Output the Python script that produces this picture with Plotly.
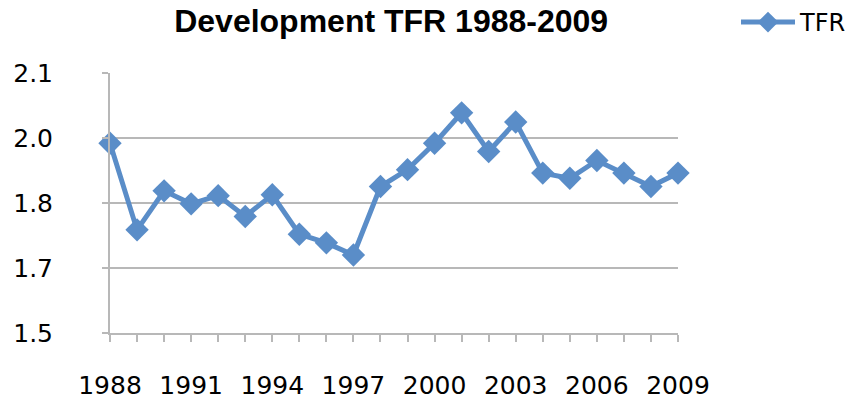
import plotly.graph_objects as go

years = list(range(1988, 2010))
tfr = [1.938, 1.738, 1.828, 1.798, 1.817, 1.769, 1.819, 1.728, 1.708, 1.680, 1.838,
       1.877, 1.938, 2.008, 1.919, 1.987, 1.869, 1.857, 1.898, 1.869, 1.838, 1.869]

y_ticks = [1.5, 1.65, 1.8, 1.95, 2.1]
y_labels = ["1.5", "1.7", "1.8", "2.0", "2.1"]
x_ticks = list(range(1988, 2010, 3))

line_color = "#5A8DC8"
grid_color = "#B8B8B8"

fig = go.Figure()
fig.add_trace(go.Scatter(
    x=years, y=tfr, name="TFR", mode="lines+markers",
    line=dict(color=line_color, width=5),
    marker=dict(symbol="diamond", size=18, color=line_color),
    cliponaxis=False,
))

fig.update_layout(
    width=851, height=401,
    margin=dict(l=110, r=173, t=73, b=68),
    plot_bgcolor="white", paper_bgcolor="white",
    title=dict(text="<b>Development TFR 1988-2009</b>", x=0.495, xref="paper",
               y=1 - 21 / 401, yref="container", yanchor="middle", xanchor="center",
               font=dict(family="Liberation Sans", size=32, color="black")),
    font=dict(family="DejaVu Sans", color="black"),
    legend=dict(x=736 / 851, y=1.0125, xref="container", yref="container",
                xanchor="left", yanchor="top", itemwidth=54,
                font=dict(family="DejaVu Sans", size=24, color="black"),
                bgcolor="rgba(0,0,0,0)"),
    showlegend=True,
    hovermode=False,
)

fig.update_xaxes(
    range=[1988, 2009], tickvals=x_ticks, ticktext=[str(v) for v in x_ticks],
    showgrid=False, zeroline=False, automargin=False,
    showline=True, linecolor=grid_color, linewidth=2,
    ticks="outside", ticklen=7, tickwidth=1.5, tickcolor=grid_color,
    minor=dict(dtick=1, tick0=1988, ticks="outside", ticklen=7, tickwidth=1.5,
               tickcolor=grid_color, showgrid=False),
    tickfont=dict(family="DejaVu Sans", size=25),
    ticklabelstandoff=22,
)
fig.update_yaxes(
    range=[1.5, 2.1], tickvals=y_ticks, ticktext=y_labels,
    showgrid=True, gridcolor=grid_color, gridwidth=2, zeroline=False, automargin=False,
    showline=True, linecolor=grid_color, linewidth=2,
    ticks="outside", ticklen=6, tickwidth=1.5, tickcolor=grid_color,
    tickfont=dict(family="DejaVu Sans", size=25),
    ticklabelstandoff=44,
)

# the default page has an 8px body margin, drop it so the figure sits at 0,0
fig.write_html("out.html", config={"displayModeBar": False},
               post_script="document.body.style.margin = '0';")
